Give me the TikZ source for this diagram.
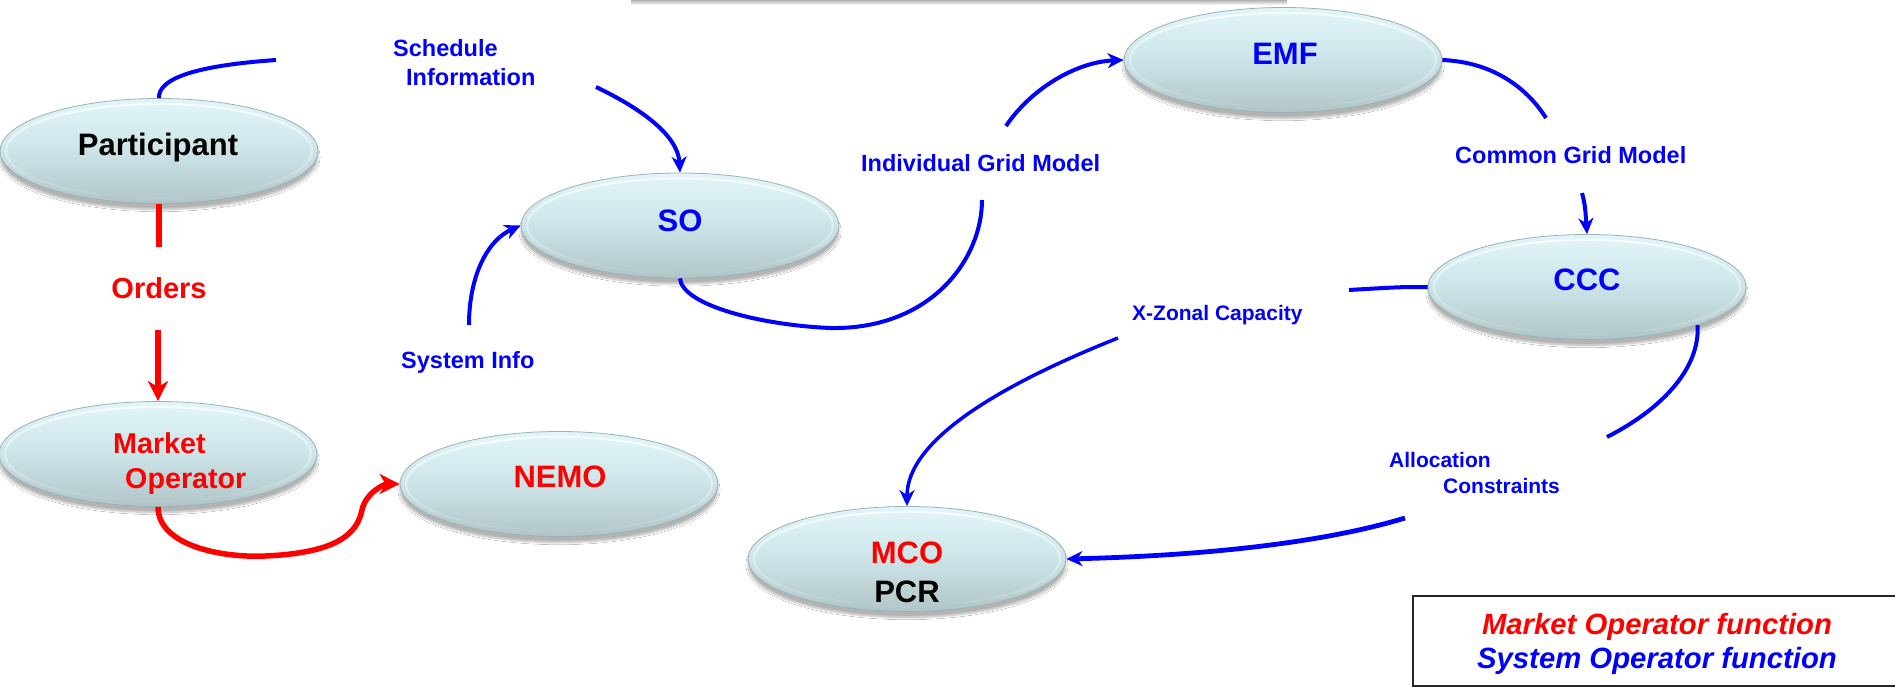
\documentclass[tikz,border=0pt]{standalone}
\usepackage{fontspec}
\setmainfont{Liberation Sans}
\usetikzlibrary{shapes.geometric,arrows.meta,shadows.blur,fadings}

\definecolor{bubtop}{HTML}{E2F6F9}
\definecolor{bubmid}{HTML}{CCE4E8}
\definecolor{bubbot}{HTML}{B0C5C8}
\definecolor{bubedge}{HTML}{9AB2B6}
\definecolor{sysblue}{HTML}{0000FF}
\definecolor{mktred}{HTML}{FF0000}

\newcommand{\fsz}[1]{\fontsize{#1}{#1}\selectfont}

\begin{document}
\begin{tikzpicture}[x=1pt,y=-1pt,
  bubble/.style={ellipse, minimum width=318pt, minimum height=105pt, inner sep=0pt,
    top color=bubtop, bottom color=bubbot, middle color=bubmid,
    draw=bubedge, line width=0.8pt,
    blur shadow={shadow xshift=0pt, shadow yshift=-6pt, shadow blur steps=10, shadow opacity=30},
    path picture={
      \draw[white, line width=2.2pt, opacity=0.75, path fading=south]
        (path picture bounding box.center) ellipse [x radius=153pt, y radius=47pt];
    }},
  big/.style={font=\fsz{31}\bfseries, inner sep=0pt, anchor=base},
  mkttext/.style={font=\fsz{28.7}\bfseries, text=mktred, inner sep=0pt, anchor=base west},
  tag/.style={font=\fsz{23.5}\bfseries, text=sysblue, inner sep=0pt, anchor=base west},
  smalltag/.style={font=\fsz{21}\bfseries, text=sysblue, inner sep=0pt, anchor=base west},
  legendtext/.style={font=\fsz{29.3}\bfseries\itshape, inner sep=0pt, anchor=base},
  sysflow/.style={draw=sysblue, line width=4pt},
  mktflow/.style={draw=mktred, line width=5.5pt},
  bluetip/.style={-{Stealth[length=16pt,width=15pt,inset=5pt]}},
  redtip/.style={-{Stealth[length=20pt,width=20pt,inset=6pt]}},
]
\useasboundingbox (0,0) rectangle (1895,687);
\fill[white] (0,0) rectangle (1895,687);

% faint shadow of a banner above the picture
\shade[top color=black!30, bottom color=white] (631,0) rectangle (1287,5);

% the actors
\node[bubble] (part) at (159,151) {};
\node[bubble] (mo)   at (158,454) {};
\node[bubble] (nemo) at (559,484) {};
\node[bubble] (so)   at (680,225.5) {};
\node[bubble] (emf)  at (1283,60) {};
\node[bubble] (ccc)  at (1587,287) {};
\node[bubble] (mco)  at (907,559) {};

\node[big] (tpart) at (158,156) {Participant};
\node[big, text=sysblue] (tso) at (680,231) {SO};
\node[big, text=sysblue] (temf) at (1285,65) {EMF};
\node[big, text=sysblue] (tccc) at (1587,290) {CCC};
\node[big, text=mktred] (tnemo) at (560,487) {NEMO};
\node[big, text=mktred] (tmco) at (907,563) {MCO};
\node[big] (tpcr) at (907,602) {PCR};
\node[mkttext] (tmkt) at (113,453) {Market};
\node[mkttext] (topr) at (125,488) {Operator};

% flow labels
\node[font=\fsz{29}\bfseries, text=mktred, inner sep=0pt, anchor=base] (lord) at (159,298) {Orders};
\node[tag] (lsched) at (393,57) {Schedule};
\node[tag] (linfo)  at (406,86) {Information};
\node[tag] (lsys)   at (401,368) {System Info};
\node[tag] (ligm)   at (861,172) {Individual Grid Model};
\node[tag] (lcgm)   at (1455,164) {Common Grid Model};
\node[smalltag] (lxz)    at (1132,320) {X-Zonal Capacity};
\node[smalltag] (lalloc) at (1389,467) {Allocation};
\node[smalltag] (lcons)  at (1443,493) {Constraints};

% free ends of the connectors
\coordinate (pfree) at (276,60);
\coordinate (schedA) at (596,87);
\coordinate (sysA) at (469,325);
\coordinate (igmB) at (982,200);
\coordinate (igmA) at (1006,126);
\coordinate (cgmB) at (1546,118);
\coordinate (cgmA) at (1582,193);
\coordinate (xzB) at (1349,290);
\coordinate (xzA) at (1118,338);
\coordinate (alB) at (1607,437);
\coordinate (alA) at (1405,518);
\coordinate (ordA) at (159,247);
\coordinate (ordB) at (158,330);

% system operator flows
\draw[sysflow] (part.north) .. controls (158,80) and (190,66) .. (pfree);
\draw[sysflow,bluetip] (schedA) .. controls (640,108) and (678,135) .. (so.north);
\draw[sysflow,bluetip] (sysA) .. controls (469,275) and (488,240) .. (so.west);
\draw[sysflow] (so.south) .. controls (682,305) and (760,325) .. (830,328)
  .. controls (930,330) and (982,260) .. (igmB);
\draw[sysflow,bluetip] (igmA) .. controls (1030,90) and (1075,62) .. (emf.west);
\draw[sysflow] (emf.east) .. controls (1490,62) and (1525,85) .. (cgmB);
\draw[sysflow,bluetip] (cgmA) .. controls (1585,205) .. (ccc.north);
\draw[sysflow] (ccc.west) .. controls (1400,287) .. (xzB);
\draw[sysflow,line width=3.5pt,bluetip] (xzA) .. controls (1000,385) and (907,440) .. (mco.north);
\draw[sysflow] (ccc.-19) .. controls (1700,370) and (1660,410) .. (alB);
\draw[sysflow,line width=4.8pt,bluetip] (alA) .. controls (1300,550) and (1150,557) .. (mco.east);

% market operator flows
\draw[mktflow] (part.south) -- (ordA);
\draw[mktflow,redtip] (ordB) -- (mo.north);
\draw[mktflow,redtip] (mo.south) .. controls (158,545) and (220,558) .. (265,556)
  .. controls (335,553) and (357,535) .. (362,510)
  .. controls (366,492) and (385,484) .. (nemo.west);

% legend
\draw[line width=1.3pt, black!85] (1413,596) rectangle (1905,686);
\node[legendtext, text=mktred] (lgm) at (1657,634) {Market Operator function};
\node[legendtext, text=sysblue] (lgs) at (1657,668) {System Operator function};
\end{tikzpicture}
\end{document}
